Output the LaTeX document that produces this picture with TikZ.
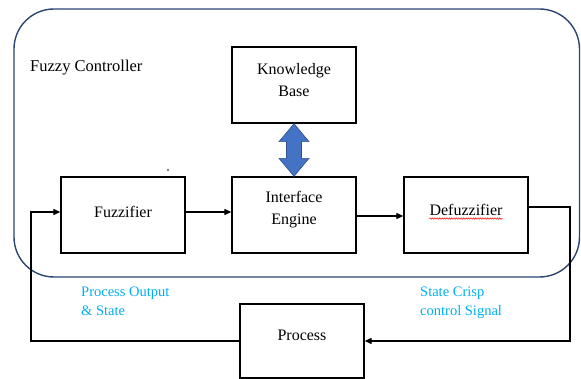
\documentclass[tikz,border=0pt]{standalone}
\usepackage{fontspec}
\setmainfont{Liberation Serif}
\usetikzlibrary{arrows.meta,calc,decorations.pathmorphing}
\definecolor{navy}{HTML}{2B4570}
\definecolor{arrfill}{HTML}{4472C4}
\definecolor{arrline}{HTML}{2F528F}
\definecolor{lblcyan}{HTML}{00B0F0}
\tikzset{
  box/.style={draw=black, line width=1.3pt, minimum width=124pt, minimum height=76pt, inner sep=0pt},
  boxtext/.style={inner sep=0pt, align=center, font=\fontsize{16}{22}\selectfont},
  lbl/.style={inner sep=0pt, align=left, anchor=north west, text=lblcyan, font=\fontsize{14.5}{19}\selectfont},
  container/.style={draw=navy, line width=1.4pt, rounded corners=40pt, inner sep=0pt},
  conn/.style={draw=black, line width=1.2pt, -{Triangle[length=7pt,width=6pt]}},
}
\begin{document}
\begin{tikzpicture}[x=1pt,y=-1pt]
\useasboundingbox (0,0) rectangle (581,379);
% container
\node[container, minimum width=565.5pt, minimum height=268pt] (fc) at (296.75,143) {};
\node[inner sep=0pt, anchor=west, font=\fontsize{16.5}{20}\selectfont] (fct) at (30,68) {Fuzzy Controller};
% boxes
\node[box] (kb) at (294,85) {};
\node[boxtext] (kbt) at ([yshift=5pt]kb.center) {Knowledge\\Base};
\node[box] (fz) at (123,215) {};
\node[boxtext] (fzt) at ([yshift=3pt]fz.center) {Fuzzifier};
\node[box] (ie) at (294,215) {};
\node[boxtext] (iet) at ([yshift=5pt]ie.center) {Interface\\Engine};
\node[box] (df) at (466,215) {};
\node[boxtext] (dft) at ([yshift=5pt]df.center) {Defuzzifier};
\node[box, minimum height=74pt] (pr) at (302,341) {};
\node[boxtext] (prt) at ([yshift=6pt]pr.center) {Process};
% red wavy underline
\draw[red, line width=0.5pt, decorate, decoration={snake, amplitude=0.7pt, segment length=2.4pt}]
  ([yshift=-3pt]dft.base west) -- ([yshift=-3pt]dft.base east);
% double arrow
\filldraw[fill=arrfill, draw=arrline, line width=0.6pt]
  (kb.south) -- ($(kb.south)+(15,18)$) -- ($(kb.south)+(7.5,18)$) -- ($(ie.north)+(7.5,-18)$)
  -- ($(ie.north)+(15,-18)$) -- (ie.north) -- ($(ie.north)+(-15,-18)$) -- ($(ie.north)+(-7.5,-18)$)
  -- ($(kb.south)+(-7.5,18)$) -- ($(kb.south)+(-15,18)$) -- cycle;
% small dot
\fill (168,170) circle (0.9pt);
% connectors
\coordinate (fzo) at ([yshift=3pt]fz.east);
\draw[conn] (fzo) -- (fzo -| ie.west);
\coordinate (ieo) at ([yshift=-1pt]ie.east);
\draw[conn] (ieo) -- (ieo -| df.west);
\coordinate (cl) at (31,0);
\coordinate (cr) at (570,0);
\coordinate (fzi) at ([yshift=3pt]fz.west);
\draw[conn] (pr.west) -- (pr.west -| cl) -- (fzi -| cl) -- (fzi);
\coordinate (dfo) at ([yshift=8pt]df.east);
\draw[conn] (dfo) -- (dfo -| cr) -- (pr.east -| cr) -- (pr.east);
% labels
\node[lbl] (l1) at (81,287) {Process Output\\\& State};
\node[lbl] (l2) at (420,287) {State Crisp\\control Signal};
\end{tikzpicture}
\end{document}
